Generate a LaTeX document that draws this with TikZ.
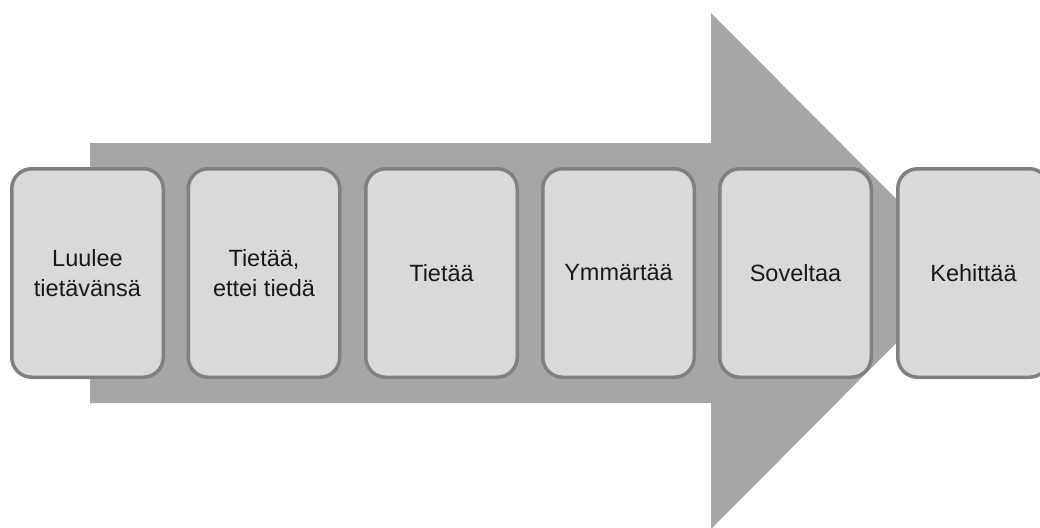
\documentclass[tikz,border=0pt]{standalone}
\usepackage{fontspec}
\setmainfont{Liberation Sans}
\definecolor{arrowgray}{HTML}{A6A6A6}
\definecolor{boxfill}{HTML}{D9D9D9}
\definecolor{boxline}{HTML}{808080}
\begin{document}
\begin{tikzpicture}[x=1pt,y=-1pt,
  stage/.style={draw=boxline, fill=boxfill, line width=3.5pt, rounded corners=20pt,
    minimum width=151.5pt, minimum height=208.5pt, align=center,
    font=\fontsize{23.5}{30}\selectfont, text=black!90, inner sep=0pt}]
\clip (0,0) rectangle (1040,527);
\fill[arrowgray] (90,143) -- (711,143) -- (711,13) -- (968,271) -- (711,529) -- (711,403) -- (90,403) -- cycle;
\node[stage] (s1) at (87.5,273) {Luulee\\tietävänsä};
\node[stage] (s2) at (264,273) {Tietää,\\ettei tiedä};
\node[stage] (s3) at (441.5,273) {Tietää};
\node[stage] (s4) at (618.5,273) {Ymmärtää};
\node[stage] (s5) at (795.5,273) {Soveltaa};
\node[stage] (s6) at (973.5,273) {Kehittää};
\end{tikzpicture}
\end{document}
